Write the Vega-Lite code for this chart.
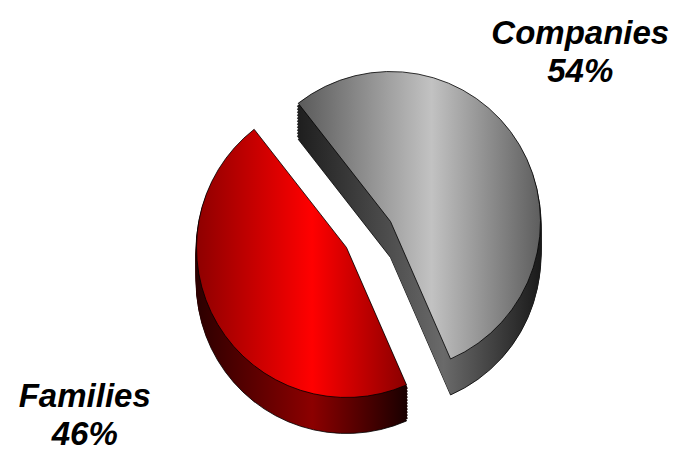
{
  "$schema": "https://vega.github.io/schema/vega-lite/v6.json",
  "width": 677,
  "height": 451,
  "autosize": {"type": "fit", "contains": "padding"},
  "padding": 0,
  "background": "white",
  "view": {"stroke": null},
  "data": {"values": [
    {"category": "Companies", "value": 54, "label": "Companies\n54%"},
    {"category": "Families", "value": 46, "label": "Families\n46%"}
  ]},
  "transform": [
    {"stack": "value", "groupby": [], "sort": [{"field": "category", "order": "ascending"}], "as": ["t0", "t1"]}
  ],
  "layer": [
    {
      "encoding": {
        "theta": {"field": "t0", "type": "quantitative", "scale": {"domain": [0, 100], "range": [-0.663, 5.62]}},
        "theta2": {"field": "t1"}
      },
      "layer": [
        {"transform": [{"filter": "datum.category === 'Companies'"}], "mark": {"type": "arc", "radius": 150, "xOffset": 52, "yOffset": 33, "stroke": "#000", "strokeWidth": 0.8, "fill": {"gradient": "linear", "x1": 0, "y1": 0, "x2": 1, "y2": 0, "stops": [{"offset": 0, "color": "#1e1e1e"}, {"offset": 0.6, "color": "#6a6a6a"}, {"offset": 1, "color": "#1a1a1a"}]}}},
        {"transform": [{"filter": "datum.category === 'Companies'"}], "mark": {"type": "arc", "radius": 150, "xOffset": 52, "yOffset": 30, "strokeWidth": 2, "stroke": {"gradient": "linear", "x1": 0, "y1": 0, "x2": 1, "y2": 0, "stops": [{"offset": 0, "color": "#1e1e1e"}, {"offset": 0.6, "color": "#6a6a6a"}, {"offset": 1, "color": "#1a1a1a"}]}, "fill": {"gradient": "linear", "x1": 0, "y1": 0, "x2": 1, "y2": 0, "stops": [{"offset": 0, "color": "#1e1e1e"}, {"offset": 0.6, "color": "#6a6a6a"}, {"offset": 1, "color": "#1a1a1a"}]}}},
        {"transform": [{"filter": "datum.category === 'Companies'"}], "mark": {"type": "arc", "radius": 150, "xOffset": 52, "yOffset": 27, "strokeWidth": 2, "stroke": {"gradient": "linear", "x1": 0, "y1": 0, "x2": 1, "y2": 0, "stops": [{"offset": 0, "color": "#1e1e1e"}, {"offset": 0.6, "color": "#6a6a6a"}, {"offset": 1, "color": "#1a1a1a"}]}, "fill": {"gradient": "linear", "x1": 0, "y1": 0, "x2": 1, "y2": 0, "stops": [{"offset": 0, "color": "#1e1e1e"}, {"offset": 0.6, "color": "#6a6a6a"}, {"offset": 1, "color": "#1a1a1a"}]}}},
        {"transform": [{"filter": "datum.category === 'Companies'"}], "mark": {"type": "arc", "radius": 150, "xOffset": 52, "yOffset": 24, "strokeWidth": 2, "stroke": {"gradient": "linear", "x1": 0, "y1": 0, "x2": 1, "y2": 0, "stops": [{"offset": 0, "color": "#1e1e1e"}, {"offset": 0.6, "color": "#6a6a6a"}, {"offset": 1, "color": "#1a1a1a"}]}, "fill": {"gradient": "linear", "x1": 0, "y1": 0, "x2": 1, "y2": 0, "stops": [{"offset": 0, "color": "#1e1e1e"}, {"offset": 0.6, "color": "#6a6a6a"}, {"offset": 1, "color": "#1a1a1a"}]}}},
        {"transform": [{"filter": "datum.category === 'Companies'"}], "mark": {"type": "arc", "radius": 150, "xOffset": 52, "yOffset": 21, "strokeWidth": 2, "stroke": {"gradient": "linear", "x1": 0, "y1": 0, "x2": 1, "y2": 0, "stops": [{"offset": 0, "color": "#1e1e1e"}, {"offset": 0.6, "color": "#6a6a6a"}, {"offset": 1, "color": "#1a1a1a"}]}, "fill": {"gradient": "linear", "x1": 0, "y1": 0, "x2": 1, "y2": 0, "stops": [{"offset": 0, "color": "#1e1e1e"}, {"offset": 0.6, "color": "#6a6a6a"}, {"offset": 1, "color": "#1a1a1a"}]}}},
        {"transform": [{"filter": "datum.category === 'Companies'"}], "mark": {"type": "arc", "radius": 150, "xOffset": 52, "yOffset": 18, "strokeWidth": 2, "stroke": {"gradient": "linear", "x1": 0, "y1": 0, "x2": 1, "y2": 0, "stops": [{"offset": 0, "color": "#1e1e1e"}, {"offset": 0.6, "color": "#6a6a6a"}, {"offset": 1, "color": "#1a1a1a"}]}, "fill": {"gradient": "linear", "x1": 0, "y1": 0, "x2": 1, "y2": 0, "stops": [{"offset": 0, "color": "#1e1e1e"}, {"offset": 0.6, "color": "#6a6a6a"}, {"offset": 1, "color": "#1a1a1a"}]}}},
        {"transform": [{"filter": "datum.category === 'Companies'"}], "mark": {"type": "arc", "radius": 150, "xOffset": 52, "yOffset": 15, "strokeWidth": 2, "stroke": {"gradient": "linear", "x1": 0, "y1": 0, "x2": 1, "y2": 0, "stops": [{"offset": 0, "color": "#1e1e1e"}, {"offset": 0.6, "color": "#6a6a6a"}, {"offset": 1, "color": "#1a1a1a"}]}, "fill": {"gradient": "linear", "x1": 0, "y1": 0, "x2": 1, "y2": 0, "stops": [{"offset": 0, "color": "#1e1e1e"}, {"offset": 0.6, "color": "#6a6a6a"}, {"offset": 1, "color": "#1a1a1a"}]}}},
        {"transform": [{"filter": "datum.category === 'Companies'"}], "mark": {"type": "arc", "radius": 150, "xOffset": 52, "yOffset": 12, "strokeWidth": 2, "stroke": {"gradient": "linear", "x1": 0, "y1": 0, "x2": 1, "y2": 0, "stops": [{"offset": 0, "color": "#1e1e1e"}, {"offset": 0.6, "color": "#6a6a6a"}, {"offset": 1, "color": "#1a1a1a"}]}, "fill": {"gradient": "linear", "x1": 0, "y1": 0, "x2": 1, "y2": 0, "stops": [{"offset": 0, "color": "#1e1e1e"}, {"offset": 0.6, "color": "#6a6a6a"}, {"offset": 1, "color": "#1a1a1a"}]}}},
        {"transform": [{"filter": "datum.category === 'Companies'"}], "mark": {"type": "arc", "radius": 150, "xOffset": 52, "yOffset": 9, "strokeWidth": 2, "stroke": {"gradient": "linear", "x1": 0, "y1": 0, "x2": 1, "y2": 0, "stops": [{"offset": 0, "color": "#1e1e1e"}, {"offset": 0.6, "color": "#6a6a6a"}, {"offset": 1, "color": "#1a1a1a"}]}, "fill": {"gradient": "linear", "x1": 0, "y1": 0, "x2": 1, "y2": 0, "stops": [{"offset": 0, "color": "#1e1e1e"}, {"offset": 0.6, "color": "#6a6a6a"}, {"offset": 1, "color": "#1a1a1a"}]}}},
        {"transform": [{"filter": "datum.category === 'Companies'"}], "mark": {"type": "arc", "radius": 150, "xOffset": 52, "yOffset": 6, "strokeWidth": 2, "stroke": {"gradient": "linear", "x1": 0, "y1": 0, "x2": 1, "y2": 0, "stops": [{"offset": 0, "color": "#1e1e1e"}, {"offset": 0.6, "color": "#6a6a6a"}, {"offset": 1, "color": "#1a1a1a"}]}, "fill": {"gradient": "linear", "x1": 0, "y1": 0, "x2": 1, "y2": 0, "stops": [{"offset": 0, "color": "#1e1e1e"}, {"offset": 0.6, "color": "#6a6a6a"}, {"offset": 1, "color": "#1a1a1a"}]}}},
        {"transform": [{"filter": "datum.category === 'Companies'"}], "mark": {"type": "arc", "radius": 150, "xOffset": 52, "yOffset": 3, "strokeWidth": 2, "stroke": {"gradient": "linear", "x1": 0, "y1": 0, "x2": 1, "y2": 0, "stops": [{"offset": 0, "color": "#1e1e1e"}, {"offset": 0.6, "color": "#6a6a6a"}, {"offset": 1, "color": "#1a1a1a"}]}, "fill": {"gradient": "linear", "x1": 0, "y1": 0, "x2": 1, "y2": 0, "stops": [{"offset": 0, "color": "#1e1e1e"}, {"offset": 0.6, "color": "#6a6a6a"}, {"offset": 1, "color": "#1a1a1a"}]}}},
        {"transform": [{"filter": "datum.category === 'Companies'"}], "mark": {"type": "arc", "radius": 150, "xOffset": 52, "yOffset": 0, "strokeWidth": 2, "stroke": {"gradient": "linear", "x1": 0, "y1": 0, "x2": 1, "y2": 0, "stops": [{"offset": 0, "color": "#1e1e1e"}, {"offset": 0.6, "color": "#6a6a6a"}, {"offset": 1, "color": "#1a1a1a"}]}, "fill": {"gradient": "linear", "x1": 0, "y1": 0, "x2": 1, "y2": 0, "stops": [{"offset": 0, "color": "#1e1e1e"}, {"offset": 0.6, "color": "#6a6a6a"}, {"offset": 1, "color": "#1a1a1a"}]}}},
        {"transform": [{"filter": "datum.category === 'Companies'"}], "mark": {"type": "arc", "radius": 150, "xOffset": 52, "yOffset": -3, "stroke": "#000", "strokeWidth": 0.8, "fill": {"gradient": "linear", "x1": 0, "y1": 0, "x2": 1, "y2": 0, "stops": [{"offset": 0, "color": "#5a5a5a"}, {"offset": 0.55, "color": "#c2c2c2"}, {"offset": 1, "color": "#5e5e5e"}]}}},

        {"transform": [{"filter": "datum.category === 'Families'"}], "mark": {"type": "arc", "radius": 150, "xOffset": 8, "yOffset": 59, "stroke": "#000", "strokeWidth": 0.8, "fill": {"gradient": "linear", "x1": 0, "y1": 0, "x2": 1, "y2": 0, "stops": [{"offset": 0, "color": "#2c0000"}, {"offset": 0.55, "color": "#8c0000"}, {"offset": 1, "color": "#1a0000"}]}}},
        {"transform": [{"filter": "datum.category === 'Families'"}], "mark": {"type": "arc", "radius": 150, "xOffset": 8, "yOffset": 56, "strokeWidth": 2, "stroke": {"gradient": "linear", "x1": 0, "y1": 0, "x2": 1, "y2": 0, "stops": [{"offset": 0, "color": "#2c0000"}, {"offset": 0.55, "color": "#8c0000"}, {"offset": 1, "color": "#1a0000"}]}, "fill": {"gradient": "linear", "x1": 0, "y1": 0, "x2": 1, "y2": 0, "stops": [{"offset": 0, "color": "#2c0000"}, {"offset": 0.55, "color": "#8c0000"}, {"offset": 1, "color": "#1a0000"}]}}},
        {"transform": [{"filter": "datum.category === 'Families'"}], "mark": {"type": "arc", "radius": 150, "xOffset": 8, "yOffset": 53, "strokeWidth": 2, "stroke": {"gradient": "linear", "x1": 0, "y1": 0, "x2": 1, "y2": 0, "stops": [{"offset": 0, "color": "#2c0000"}, {"offset": 0.55, "color": "#8c0000"}, {"offset": 1, "color": "#1a0000"}]}, "fill": {"gradient": "linear", "x1": 0, "y1": 0, "x2": 1, "y2": 0, "stops": [{"offset": 0, "color": "#2c0000"}, {"offset": 0.55, "color": "#8c0000"}, {"offset": 1, "color": "#1a0000"}]}}},
        {"transform": [{"filter": "datum.category === 'Families'"}], "mark": {"type": "arc", "radius": 150, "xOffset": 8, "yOffset": 50, "strokeWidth": 2, "stroke": {"gradient": "linear", "x1": 0, "y1": 0, "x2": 1, "y2": 0, "stops": [{"offset": 0, "color": "#2c0000"}, {"offset": 0.55, "color": "#8c0000"}, {"offset": 1, "color": "#1a0000"}]}, "fill": {"gradient": "linear", "x1": 0, "y1": 0, "x2": 1, "y2": 0, "stops": [{"offset": 0, "color": "#2c0000"}, {"offset": 0.55, "color": "#8c0000"}, {"offset": 1, "color": "#1a0000"}]}}},
        {"transform": [{"filter": "datum.category === 'Families'"}], "mark": {"type": "arc", "radius": 150, "xOffset": 8, "yOffset": 47, "strokeWidth": 2, "stroke": {"gradient": "linear", "x1": 0, "y1": 0, "x2": 1, "y2": 0, "stops": [{"offset": 0, "color": "#2c0000"}, {"offset": 0.55, "color": "#8c0000"}, {"offset": 1, "color": "#1a0000"}]}, "fill": {"gradient": "linear", "x1": 0, "y1": 0, "x2": 1, "y2": 0, "stops": [{"offset": 0, "color": "#2c0000"}, {"offset": 0.55, "color": "#8c0000"}, {"offset": 1, "color": "#1a0000"}]}}},
        {"transform": [{"filter": "datum.category === 'Families'"}], "mark": {"type": "arc", "radius": 150, "xOffset": 8, "yOffset": 44, "strokeWidth": 2, "stroke": {"gradient": "linear", "x1": 0, "y1": 0, "x2": 1, "y2": 0, "stops": [{"offset": 0, "color": "#2c0000"}, {"offset": 0.55, "color": "#8c0000"}, {"offset": 1, "color": "#1a0000"}]}, "fill": {"gradient": "linear", "x1": 0, "y1": 0, "x2": 1, "y2": 0, "stops": [{"offset": 0, "color": "#2c0000"}, {"offset": 0.55, "color": "#8c0000"}, {"offset": 1, "color": "#1a0000"}]}}},
        {"transform": [{"filter": "datum.category === 'Families'"}], "mark": {"type": "arc", "radius": 150, "xOffset": 8, "yOffset": 41, "strokeWidth": 2, "stroke": {"gradient": "linear", "x1": 0, "y1": 0, "x2": 1, "y2": 0, "stops": [{"offset": 0, "color": "#2c0000"}, {"offset": 0.55, "color": "#8c0000"}, {"offset": 1, "color": "#1a0000"}]}, "fill": {"gradient": "linear", "x1": 0, "y1": 0, "x2": 1, "y2": 0, "stops": [{"offset": 0, "color": "#2c0000"}, {"offset": 0.55, "color": "#8c0000"}, {"offset": 1, "color": "#1a0000"}]}}},
        {"transform": [{"filter": "datum.category === 'Families'"}], "mark": {"type": "arc", "radius": 150, "xOffset": 8, "yOffset": 38, "strokeWidth": 2, "stroke": {"gradient": "linear", "x1": 0, "y1": 0, "x2": 1, "y2": 0, "stops": [{"offset": 0, "color": "#2c0000"}, {"offset": 0.55, "color": "#8c0000"}, {"offset": 1, "color": "#1a0000"}]}, "fill": {"gradient": "linear", "x1": 0, "y1": 0, "x2": 1, "y2": 0, "stops": [{"offset": 0, "color": "#2c0000"}, {"offset": 0.55, "color": "#8c0000"}, {"offset": 1, "color": "#1a0000"}]}}},
        {"transform": [{"filter": "datum.category === 'Families'"}], "mark": {"type": "arc", "radius": 150, "xOffset": 8, "yOffset": 35, "strokeWidth": 2, "stroke": {"gradient": "linear", "x1": 0, "y1": 0, "x2": 1, "y2": 0, "stops": [{"offset": 0, "color": "#2c0000"}, {"offset": 0.55, "color": "#8c0000"}, {"offset": 1, "color": "#1a0000"}]}, "fill": {"gradient": "linear", "x1": 0, "y1": 0, "x2": 1, "y2": 0, "stops": [{"offset": 0, "color": "#2c0000"}, {"offset": 0.55, "color": "#8c0000"}, {"offset": 1, "color": "#1a0000"}]}}},
        {"transform": [{"filter": "datum.category === 'Families'"}], "mark": {"type": "arc", "radius": 150, "xOffset": 8, "yOffset": 32, "strokeWidth": 2, "stroke": {"gradient": "linear", "x1": 0, "y1": 0, "x2": 1, "y2": 0, "stops": [{"offset": 0, "color": "#2c0000"}, {"offset": 0.55, "color": "#8c0000"}, {"offset": 1, "color": "#1a0000"}]}, "fill": {"gradient": "linear", "x1": 0, "y1": 0, "x2": 1, "y2": 0, "stops": [{"offset": 0, "color": "#2c0000"}, {"offset": 0.55, "color": "#8c0000"}, {"offset": 1, "color": "#1a0000"}]}}},
        {"transform": [{"filter": "datum.category === 'Families'"}], "mark": {"type": "arc", "radius": 150, "xOffset": 8, "yOffset": 29, "strokeWidth": 2, "stroke": {"gradient": "linear", "x1": 0, "y1": 0, "x2": 1, "y2": 0, "stops": [{"offset": 0, "color": "#2c0000"}, {"offset": 0.55, "color": "#8c0000"}, {"offset": 1, "color": "#1a0000"}]}, "fill": {"gradient": "linear", "x1": 0, "y1": 0, "x2": 1, "y2": 0, "stops": [{"offset": 0, "color": "#2c0000"}, {"offset": 0.55, "color": "#8c0000"}, {"offset": 1, "color": "#1a0000"}]}}},
        {"transform": [{"filter": "datum.category === 'Families'"}], "mark": {"type": "arc", "radius": 150, "xOffset": 8, "yOffset": 26, "strokeWidth": 2, "stroke": {"gradient": "linear", "x1": 0, "y1": 0, "x2": 1, "y2": 0, "stops": [{"offset": 0, "color": "#2c0000"}, {"offset": 0.55, "color": "#8c0000"}, {"offset": 1, "color": "#1a0000"}]}, "fill": {"gradient": "linear", "x1": 0, "y1": 0, "x2": 1, "y2": 0, "stops": [{"offset": 0, "color": "#2c0000"}, {"offset": 0.55, "color": "#8c0000"}, {"offset": 1, "color": "#1a0000"}]}}},
        {"transform": [{"filter": "datum.category === 'Families'"}], "mark": {"type": "arc", "radius": 150, "xOffset": 8, "yOffset": 23, "stroke": "#000", "strokeWidth": 0.8, "fill": {"gradient": "linear", "x1": 0, "y1": 0, "x2": 1, "y2": 0, "stops": [{"offset": 0, "color": "#8e0000"}, {"offset": 0.55, "color": "#ff0000"}, {"offset": 1, "color": "#8a0000"}]}}}
      ]
    },
    {
      "transform": [{"calculate": "(datum.t0 + datum.t1) / 2 - 1.5", "as": "tm"}],
      "mark": {"type": "text", "radius": 307, "dx": -6, "dy": -9, "font": "Liberation Sans", "fontSize": 33, "fontWeight": "bold", "fontStyle": "italic", "lineBreak": "\n", "lineHeight": 38, "align": "center", "baseline": "middle", "color": "#000"},
      "encoding": {
        "theta": {"field": "tm", "type": "quantitative", "scale": {"domain": [0, 100], "range": [-0.663, 5.62]}},
        "text": {"field": "label", "type": "nominal"}
      }
    }
  ]
}
